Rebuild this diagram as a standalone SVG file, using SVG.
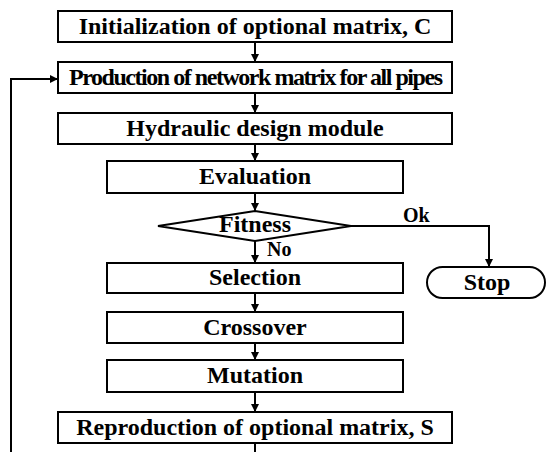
<svg xmlns="http://www.w3.org/2000/svg" width="549" height="452" viewBox="0 0 549 452">
<defs>
<marker id="ah" viewBox="0 0 8 8" refX="8" refY="4" markerWidth="8" markerHeight="8" markerUnits="userSpaceOnUse" orient="auto">
<path d="M0,0 L8,4 L0,8 z" fill="#000"/>
</marker>
<style>
.box{fill:#fff;stroke:#000;stroke-width:2}
.t{font-family:"Liberation Serif","Times New Roman",serif;font-weight:bold;font-size:24px;fill:#000;text-anchor:middle}
.s{font-family:"Liberation Serif","Times New Roman",serif;font-weight:bold;font-size:20px;fill:#000}
.c{fill:none;stroke:#000;stroke-width:2}
.a{marker-end:url(#ah)}
</style>
</defs>
<rect width="549" height="452" fill="#fff"/>
<g id="connectors">
<line class="c a" x1="255" y1="42" x2="255" y2="62"/>
<line class="c a" x1="255" y1="93" x2="255" y2="113"/>
<line class="c a" x1="255" y1="144" x2="255" y2="161"/>
<line class="c a" x1="255" y1="193" x2="255" y2="211"/>
<line class="c a" x1="255" y1="241" x2="255" y2="263"/>
<line class="c a" x1="255" y1="293" x2="255" y2="312"/>
<line class="c a" x1="255" y1="343" x2="255" y2="360"/>
<line class="c a" x1="255" y1="392" x2="255" y2="412"/>
<line class="c" x1="255" y1="443" x2="255" y2="452"/>
<polyline class="c a" points="351,226 489,226 489,267"/>
<polyline class="c a" points="11,452 11,79 58,79"/>
<text class="s" x="403" y="222">Ok</text>
<text class="s" x="267" y="256">No</text>
</g>
<g id="init"><rect class="box" x="58" y="11" width="394" height="31"/><text class="t" x="255" y="34">Initialization of optional matrix, C</text></g>
<g id="production"><rect class="box" x="58" y="62" width="394" height="31"/><text class="t" x="256" y="85" textLength="374" lengthAdjust="spacing">Production of network matrix for all pipes</text></g>
<g id="hydraulic"><rect class="box" x="58" y="113" width="394" height="31"/><text class="t" x="255" y="136">Hydraulic design module</text></g>
<g id="evaluation"><rect class="box" x="107" y="161" width="296" height="32"/><text class="t" x="255" y="184">Evaluation</text></g>
<g id="fitness"><polygon class="box" points="158,226 255,211 351,226 255,241"/><text class="t" x="255" y="232">Fitness</text></g>
<g id="selection"><rect class="box" x="107" y="263" width="296" height="30"/><text class="t" x="255" y="285">Selection</text></g>
<g id="stop"><rect class="box" x="427" y="267" width="118" height="31" rx="15.5"/><text class="t" x="487" y="290">Stop</text></g>
<g id="crossover"><rect class="box" x="107" y="312" width="296" height="31"/><text class="t" x="255" y="335">Crossover</text></g>
<g id="mutation"><rect class="box" x="107" y="360" width="296" height="32"/><text class="t" x="255" y="383">Mutation</text></g>
<g id="reproduction"><rect class="box" x="58" y="412" width="394" height="31"/><text class="t" x="255" y="435">Reproduction of optional matrix, S</text></g>
</svg>
